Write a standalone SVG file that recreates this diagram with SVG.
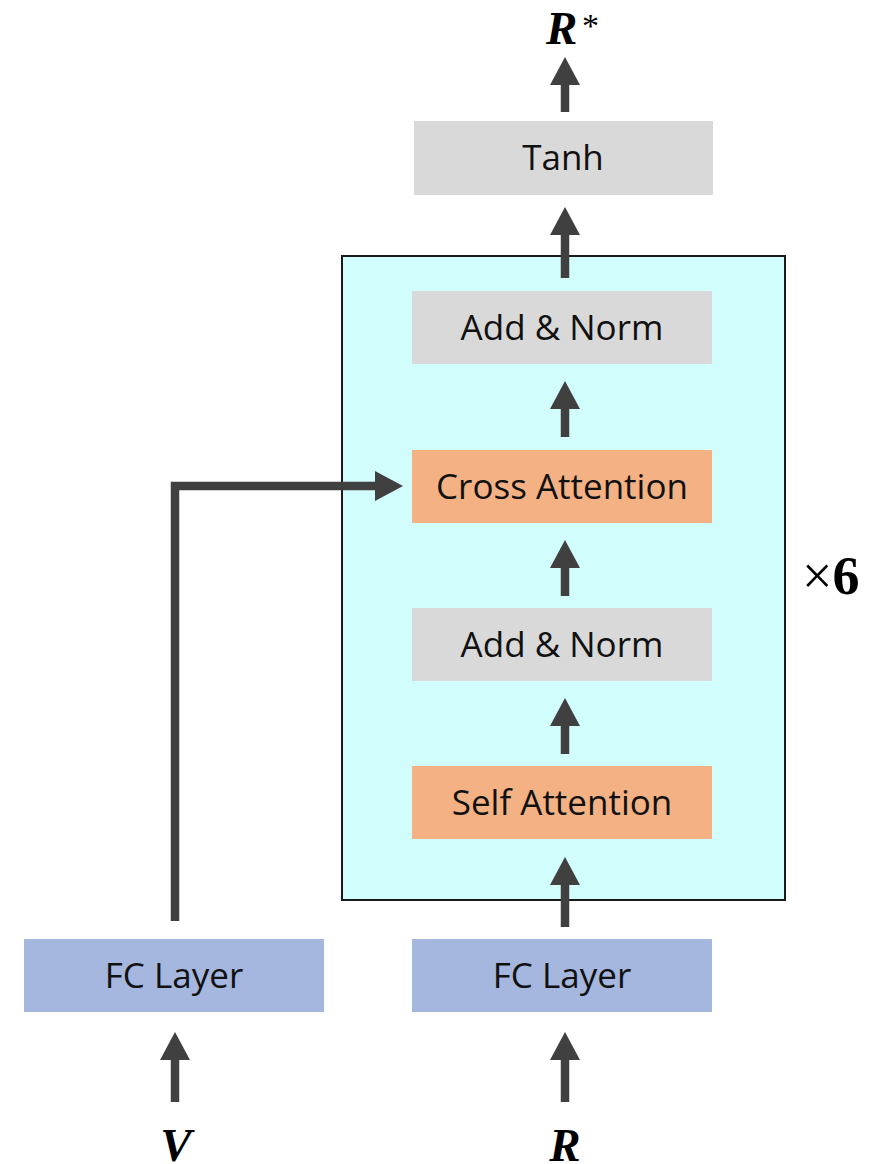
<svg xmlns="http://www.w3.org/2000/svg" width="886" height="1164" viewBox="0 0 886 1164">
<style>
.box text{font-family:"Open Sans","Liberation Sans",sans-serif;font-size:35px;fill:#111;text-anchor:middle}
.gray{fill:#d9d9d9}
.orange{fill:#f4b183}
.blue{fill:#a5b7df}
.math{font-family:"Liberation Serif","Times New Roman",serif;font-size:47px;font-weight:bold;font-style:italic;fill:#000}
.conn line,.conn path{stroke:#404040;stroke-width:8.5;fill:none}
</style>
<defs>
<marker id="ah" markerUnits="userSpaceOnUse" markerWidth="30" markerHeight="30" refX="0" refY="15" orient="auto" viewBox="0 0 30 30">
<path d="M0,0 L28,15 L0,30 Z" fill="#404040"/>
</marker>
</defs>
<g id="container">
<rect x="342" y="256" width="443" height="644" fill="#d2fdfd" stroke="#1a1a1a" stroke-width="2"/>
</g>
<g id="tanh" class="box"><rect class="gray" x="414" y="121" width="299" height="74"/><text x="563" y="170">Tanh</text></g>
<g id="addnorm2" class="box"><rect class="gray" x="412" y="291" width="300" height="73"/><text x="562" y="340">Add &amp; Norm</text></g>
<g id="cross" class="box"><rect class="orange" x="412" y="450" width="300" height="73"/><text x="562" y="499">Cross Attention</text></g>
<g id="addnorm1" class="box"><rect class="gray" x="412" y="608" width="300" height="73"/><text x="562" y="657">Add &amp; Norm</text></g>
<g id="self" class="box"><rect class="orange" x="412" y="766" width="300" height="73"/><text x="562" y="815">Self Attention</text></g>
<g id="fcR" class="box"><rect class="blue" x="412" y="939" width="300" height="73"/><text x="562" y="988">FC Layer</text></g>
<g id="fcV" class="box"><rect class="blue" x="24" y="939" width="300" height="73"/><text x="174" y="988">FC Layer</text></g>
<g id="rstar"><text class="math" x="546" y="44">R</text><text x="582" y="37" font-family="Liberation Serif,serif" font-size="34" fill="#000">*</text></g>
<g id="times6"><text x="802" y="594" font-family="Liberation Serif,serif" font-size="54" fill="#000">×<tspan font-weight="bold">6</tspan></text></g>
<g id="V"><text class="math" x="176" y="1161" text-anchor="middle">V</text></g>
<g id="R"><text class="math" x="565" y="1161" text-anchor="middle">R</text></g>
<g class="conn" id="connectors">
<line x1="565" y1="112" x2="565" y2="85" marker-end="url(#ah)"/>
<line x1="565" y1="278" x2="565" y2="235" marker-end="url(#ah)"/>
<line x1="565" y1="437" x2="565" y2="409" marker-end="url(#ah)"/>
<line x1="565" y1="596" x2="565" y2="568" marker-end="url(#ah)"/>
<line x1="565" y1="754" x2="565" y2="726" marker-end="url(#ah)"/>
<line x1="565" y1="927" x2="565" y2="885" marker-end="url(#ah)"/>
<line x1="565" y1="1102" x2="565" y2="1060" marker-end="url(#ah)"/>
<line x1="175" y1="1102" x2="175" y2="1060" marker-end="url(#ah)"/>
<path d="M175,921 L175,486 L375,486" marker-end="url(#ah)"/>
</g>
</svg>
